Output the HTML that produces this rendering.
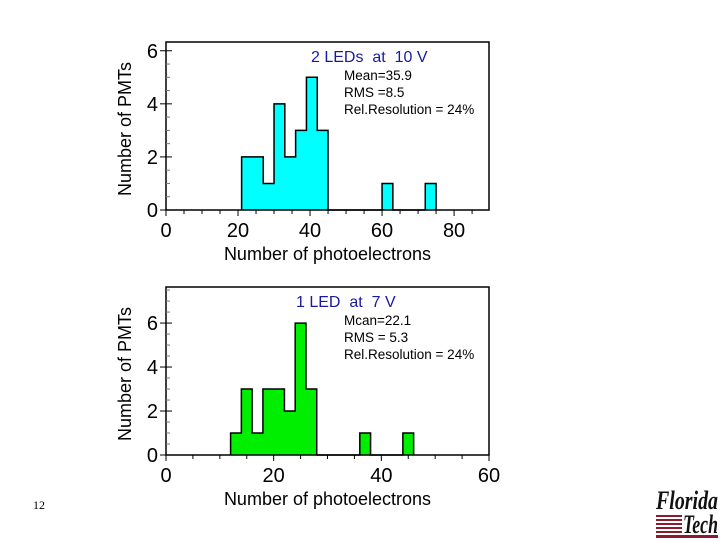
<!DOCTYPE html>
<html><head><meta charset="utf-8"><style>
html,body{margin:0;padding:0;background:#fff;}
svg{display:block;font-family:"Liberation Sans",Arial,sans-serif;}
</style></head><body>
<svg id="s" width="720" height="540" viewBox="0 0 720 540" xmlns="http://www.w3.org/2000/svg">
<text x="33" y="509" font-family="Liberation Serif,serif" font-size="12">12</text>
<g>
<text x="656" y="509" font-family="Liberation Serif,serif" font-style="italic" font-weight="bold" font-size="26" fill="#111" textLength="62" lengthAdjust="spacingAndGlyphs">Florida</text>
<rect x="656" y="515" width="26" height="2" fill="#8a1c2e"/><rect x="656" y="519" width="26" height="2" fill="#8a1c2e"/><rect x="656" y="523" width="26" height="2" fill="#8a1c2e"/><rect x="656" y="527" width="26" height="2" fill="#8a1c2e"/><rect x="656" y="531" width="26" height="2" fill="#8a1c2e"/><rect x="656" y="535" width="62" height="3" fill="#8a1c2e"/>
<text x="683" y="533" font-family="Liberation Serif,serif" font-style="italic" font-weight="bold" font-size="26" fill="#111" textLength="35" lengthAdjust="spacingAndGlyphs">Tech</text>
</g>
</svg>
<script>
// Top chart data (2 LEDs at 10 V), bins of width 3
const topBinStarts=[21,24,27,30,33,36,39,42,60,72];
const topCounts=[2,2,1,4,2,3,5,3,1,1];
const topBinWidth=3;
const topXTicks=[0,20,40,60,80];
const topYTicks=[0,2,4,6];
const topStats=["Mean=35.9","RMS =8.5","Rel.Resolution = 24%"];
// Bottom chart data (1 LED at 7 V), bins of width 2
const botBinStarts=[12,14,16,18,20,22,24,26,36,44];
const botCounts=[1,3,1,3,3,2,6,3,1,1];
const botBinWidth=2;
const botXTicks=[0,20,40,60];
const botYTicks=[0,2,4,6];
const botStats=["Mcan=22.1","RMS = 5.3","Rel.Resolution = 24%"];

const NS="http://www.w3.org/2000/svg";
const svg=document.getElementById('s');
function mk(tag,attrs,parent,text){const e=document.createElementNS(NS,tag);for(const k in attrs)e.setAttribute(k,attrs[k]);if(text!==undefined)e.textContent=text;(parent||svg).appendChild(e);return e;}

function chart(cfg){
  const g=mk('g',{});
  
  
  const X=v=>cfg.x0+(v-cfg.xmin)/(cfg.xmax-cfg.xmin)*(cfg.x1-cfg.x0);
  const Y=v=>cfg.y0-(v-cfg.ymin)/(cfg.ymax-cfg.ymin)*(cfg.y0-cfg.y1);
  let d='M'+X(cfg.starts[0])+','+Y(0);
  let prevEnd=cfg.starts[0];
  cfg.starts.forEach((s,i)=>{
    if(s!==prevEnd){d+=' L'+X(prevEnd)+','+Y(0)+' L'+X(s)+','+Y(0);}
    d+=' L'+X(s)+','+Y(cfg.counts[i])+' L'+X(s+cfg.bw)+','+Y(cfg.counts[i]);
    prevEnd=s+cfg.bw;
  });
  d+=' L'+X(prevEnd)+','+Y(0);
  cfg.starts.forEach((s,i)=>{
    const r=mk('rect',{x:X(s),y:Y(cfg.counts[i]),width:X(s+cfg.bw)-X(s)+0.3,height:Y(0)-Y(cfg.counts[i]),fill:cfg.color},g);
    
    
  });
  const p=mk('path',{d:d,fill:'none',stroke:'#000','stroke-width':1.5},g);
  
  
  const f=mk('rect',{x:cfg.x0,y:cfg.y1,width:cfg.x1-cfg.x0,height:cfg.y0-cfg.y1,fill:'none',stroke:'#000','stroke-width':1.5},g);
  
  
  for(let v=0;v<=cfg.xmax;v+=cfg.xminor){
    const major=cfg.xticks.includes(v);
    mk('line',{x1:X(v),x2:X(v),y1:cfg.y0,y2:cfg.y0+(major?6:4),stroke:'#000','stroke-width':1},g);
  }
  cfg.xticks.forEach(v=>{
    const t=mk('text',{x:X(v),y:cfg.y0+27,'font-size':20,'text-anchor':'middle'},g,String(v));
    
    
  });
  for(let v=0;v<=cfg.ymax;v+=0.5){
    const major=cfg.yticks.includes(v);
    mk('line',{x1:cfg.x0,x2:cfg.x0+(major?6:4),y1:Y(v),y2:Y(v),stroke:major?'#000':'#777','stroke-width':1},g);
    mk('line',{x1:cfg.x0-(major?6:0),x2:cfg.x0,y1:Y(v),y2:Y(v),stroke:'#000','stroke-width':1},g);
  }
  cfg.yticks.forEach(v=>{
    const t=mk('text',{x:cfg.x0-8,y:Y(v)+7,'font-size':20,'text-anchor':'end'},g,String(v));
    
    
  });
  const xt=mk('text',{x:(cfg.x0+cfg.x1)/2,y:cfg.y0+50,'font-size':18,'text-anchor':'middle'},g,'Number of photoelectrons');
  
  
  const yc=(cfg.y0+cfg.y1)/2+3;
  const yt=mk('text',{x:131,y:yc,'font-size':18,'text-anchor':'middle',transform:'rotate(-90 131 '+yc+')'},g,'Number of PMTs');
  
  
  const tt=mk('text',{x:cfg.titleX,y:cfg.y1+20,'font-size':16,fill:'#1a1aa0',style:'white-space:pre'},g,cfg.title);
  
  
  cfg.stats.forEach((s,i)=>{
    const st=mk('text',{x:344,y:cfg.y1+38+i*17,'font-size':13.5},g,s);
    
    
  });
}
chart({name:'top-histogram',x0:166,x1:489,y0:210,y1:42,xmin:0,xmax:89.7,ymin:0,ymax:6.33,
  starts:topBinStarts,counts:topCounts,bw:topBinWidth,color:'#00ffff',xticks:topXTicks,yticks:topYTicks,xminor:5,
  title:'2 LEDs  at  10 V',titleX:311,stats:topStats});
chart({name:'bottom-histogram',x0:166,x1:489,y0:455,y1:287,xmin:0,xmax:60,ymin:0,ymax:7.64,
  starts:botBinStarts,counts:botCounts,bw:botBinWidth,color:'#00ee00',xticks:botXTicks,yticks:botYTicks,xminor:5,
  title:'1 LED  at  7 V',titleX:296,stats:botStats});
</script>
</body></html>
